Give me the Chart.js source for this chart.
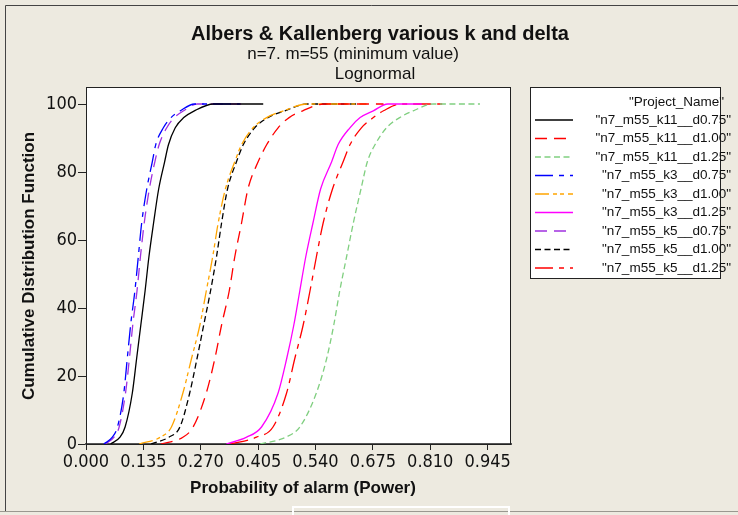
<!DOCTYPE html>
<html>
<head>
<meta charset="utf-8">
<script src="https://cdn.jsdelivr.net/npm/chart.js@4.4.1/dist/chart.umd.min.js"></script>
<style>
  html, body { margin: 0; padding: 0; background: #edeae0; }
  #wrap { width: 738px; height: 515px; position: relative; }
</style>
</head>
<body>
<div id="wrap"><canvas id="cdf"></canvas></div>
<script>
// cumulative percent levels, shared by every run; last entry is where the flat top ends
const cdfLevels = [0, 2, 5, 15, 25, 35, 45, 55, 65, 75, 83, 88, 93, 96, 98, 100, 100];

// probability of alarm at each level
const k11_d075 = [0.058, 0.080, 0.092, 0.109, 0.119, 0.129, 0.139, 0.148, 0.159, 0.171, 0.185, 0.194, 0.210, 0.230, 0.255, 0.300, 0.417];
const k11_d100 = [0.176, 0.228, 0.252, 0.283, 0.303, 0.319, 0.337, 0.350, 0.366, 0.381, 0.405, 0.425, 0.452, 0.478, 0.510, 0.560, 0.700];
const k11_d125 = [0.410, 0.470, 0.503, 0.542, 0.566, 0.583, 0.597, 0.613, 0.629, 0.647, 0.662, 0.680, 0.707, 0.738, 0.770, 0.817, 0.927];
const k3_d075 = [0.042, 0.062, 0.074, 0.089, 0.097, 0.105, 0.115, 0.123, 0.131, 0.143, 0.156, 0.164, 0.182, 0.200, 0.222, 0.255, 0.362];
const k3_d100 = [0.125, 0.175, 0.201, 0.228, 0.248, 0.268, 0.283, 0.298, 0.311, 0.328, 0.350, 0.366, 0.393, 0.425, 0.465, 0.520, 0.660];
const k3_d125 = [0.330, 0.378, 0.413, 0.452, 0.472, 0.489, 0.503, 0.517, 0.534, 0.552, 0.578, 0.593, 0.621, 0.645, 0.676, 0.710, 0.790];
const k5_d075 = [0.045, 0.066, 0.078, 0.093, 0.102, 0.110, 0.120, 0.128, 0.137, 0.149, 0.162, 0.172, 0.190, 0.208, 0.230, 0.262, 0.365];
const k5_d100 = [0.153, 0.195, 0.221, 0.244, 0.261, 0.277, 0.293, 0.307, 0.319, 0.333, 0.354, 0.370, 0.397, 0.428, 0.468, 0.520, 0.640];
const k5_d125 = [0.340, 0.401, 0.440, 0.472, 0.491, 0.511, 0.527, 0.542, 0.558, 0.580, 0.605, 0.621, 0.648, 0.676, 0.700, 0.740, 0.850];

const xTicks = [0, 0.135, 0.270, 0.405, 0.540, 0.675, 0.810, 0.945];
const yTicks = [0, 20, 40, 60, 80, 100];

const seriesNames = [
  '"n7_m55_k11__d0.75"', '"n7_m55_k11__d1.00"', '"n7_m55_k11__d1.25"',
  '"n7_m55_k3__d0.75"', '"n7_m55_k3__d1.00"', '"n7_m55_k3__d1.25"',
  '"n7_m55_k5__d0.75"', '"n7_m55_k5__d1.00"', '"n7_m55_k5__d1.25"'
];
const seriesValues = [k11_d075, k11_d100, k11_d125, k3_d075, k3_d100, k3_d125, k5_d075, k5_d100, k5_d125];
const seriesColors = ['#000000', '#ff0000', '#80cf80', '#0000ff', '#ffa500', '#ff00ff', '#a030e0', '#000000', '#ff0000'];
const seriesDash = [[], [12, 7], [6, 3.5], [18, 6, 5, 6], [14, 4, 4, 3, 4, 4], [], [12, 7], [6, 3.5], [18, 6, 5, 6]];

const narrow = '"Liberation Sans Narrow", "Arial Narrow", "DejaVu Sans Condensed", sans-serif';
const sans = '"Liberation Sans", Arial, sans-serif';

const datasets = seriesNames.map((name, i) => ({
  label: name,
  data: seriesValues[i].map((x, j) => ({ x: x, y: cdfLevels[j] })),
  borderColor: seriesColors[i],
  borderDash: seriesDash[i],
  borderWidth: 1.3,
  showLine: true,
  pointRadius: 0,
  fill: false,
  cubicInterpolationMode: 'monotone'
}));

// page background, frame lines, headings, axis titles
const decor = {
  id: 'decor',
  beforeDraw(chart) {
    const c = chart.ctx;
    const a = chart.chartArea;
    c.save();
    c.fillStyle = '#edeae0';
    c.fillRect(0, 0, chart.width, chart.height);
    c.fillStyle = '#ffffff';
    c.fillRect(a.left, a.top, a.right - a.left, a.bottom - a.top);
    c.strokeStyle = '#444';
    c.lineWidth = 1;
    c.beginPath();
    c.moveTo(5.5, 511);
    c.lineTo(5.5, 5.5);
    c.lineTo(738, 5.5);
    c.stroke();
    c.strokeStyle = '#9a9890';
    c.beginPath();
    c.moveTo(0, 511.5);
    c.lineTo(738, 511.5);
    c.stroke();
    c.strokeStyle = '#ffffff';
    c.lineWidth = 2;
    c.strokeRect(293, 507, 216, 12);
    c.restore();
  },
  afterDraw(chart) {
    const c = chart.ctx;
    const a = chart.chartArea;
    c.save();
    c.strokeStyle = '#222';
    c.lineWidth = 1;
    c.strokeRect(a.left + 0.5, a.top + 0.5, a.right - a.left - 1, a.bottom - a.top);
    c.fillStyle = '#111';
    c.textAlign = 'center';
    c.textBaseline = 'middle';
    c.font = 'bold 20px ' + sans;
    c.fillText('Albers & Kallenberg various k and delta', 380, 34);
    c.font = '17px ' + sans;
    c.fillText('n=7. m=55 (minimum value)', 353, 54);
    c.fillText('Lognormal', 375, 74);
    c.font = 'bold 17px ' + sans;
    c.fillText('Probability of alarm (Power)', 303, 488);
    c.translate(29, 266);
    c.rotate(-Math.PI / 2);
    c.fillText('Cumulative Distribution Function', 0, 0);
    c.restore();
  }
};

// boxed legend with line samples on the right
const sideLegend = {
  id: 'sideLegend',
  afterDraw(chart) {
    const c = chart.ctx;
    c.save();
    c.fillStyle = '#ffffff';
    c.fillRect(530, 87, 191, 192);
    c.strokeStyle = '#222';
    c.lineWidth = 1;
    c.strokeRect(530.5, 87.5, 190, 191);
    c.fillStyle = '#111';
    c.font = '13.5px ' + sans;
    c.textAlign = 'right';
    c.textBaseline = 'middle';
    c.fillText('"Project_Name"', 724, 102);
    chart.data.datasets.forEach((ds, i) => {
      const y = 120 + i * 18.5;
      c.strokeStyle = ds.borderColor;
      c.lineWidth = 1.3;
      c.setLineDash(ds.borderDash);
      c.beginPath();
      c.moveTo(535, y);
      c.lineTo(573, y);
      c.stroke();
      c.setLineDash([]);
      c.fillText(ds.label, 731, y);
    });
    c.restore();
  }
};

new Chart(document.getElementById('cdf'), {
  type: 'scatter',
  data: { datasets: datasets },
  options: {
    responsive: true,
    maintainAspectRatio: false,
    animation: false,
    layout: { padding: { left: 0, top: 87, right: 227, bottom: 0 } },
    plugins: {
      legend: { display: false },
      tooltip: { enabled: false }
    },
    scales: {
      x: {
        type: 'linear',
        min: 0,
        max: 1.0,
        afterBuildTicks: s => { s.ticks = xTicks.map(v => ({ value: v })); },
        afterFit: s => { s.height = 71; },
        grid: { drawOnChartArea: false, drawTicks: true, tickLength: 6, tickColor: '#222' },
        border: { display: true, color: '#555', width: 2 },
        ticks: {
          color: '#111',
          padding: 2,
          maxRotation: 0,
          font: { family: narrow, size: 18 },
          callback: v => v.toFixed(3)
        }
      },
      y: {
        type: 'linear',
        min: 0,
        max: 105,
        afterBuildTicks: s => { s.ticks = yTicks.map(v => ({ value: v })); },
        afterFit: s => { s.width = 86; },
        grid: { drawOnChartArea: false, drawTicks: true, tickLength: 8, tickColor: '#222' },
        border: { display: true, color: '#222', width: 1 },
        ticks: {
          color: '#111',
          padding: 1,
          font: { family: narrow, size: 18 }
        }
      }
    }
  },
  plugins: [decor, sideLegend]
});
</script>
</body>
</html>
